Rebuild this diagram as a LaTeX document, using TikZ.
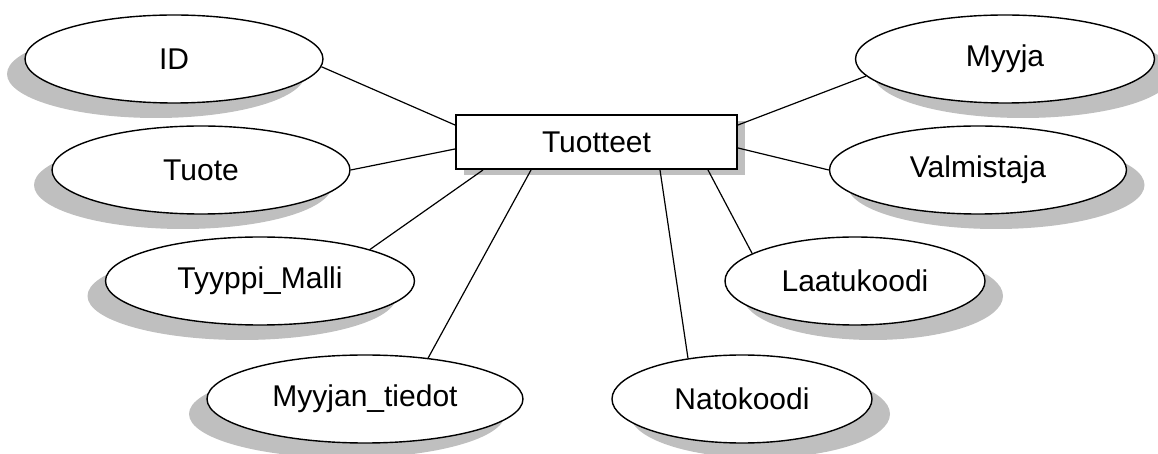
\documentclass[tikz,border=0pt]{standalone}
\usepackage{fontspec}
\setmainfont{Liberation Sans}
\usetikzlibrary{shapes.geometric,shadows}

\begin{document}
\begin{tikzpicture}[x=0.5pt,y=-0.5pt,
   attr/.style={ellipse, draw=black, line width=0.7pt, fill=white, inner sep=0pt,
                minimum height=44pt, font=\fontsize{15pt}{18pt}\selectfont},
   lshadow/.style={drop shadow={shadow xshift=-9pt, shadow yshift=-7.5pt, fill=black!25, opacity=1}},
   rshadow/.style={drop shadow={shadow xshift=9pt, shadow yshift=-7.5pt, fill=black!25, opacity=1}},
   entity/.style={rectangle, draw=black, line width=1pt, fill=white, minimum width=140.5pt,
                minimum height=27pt, font=\fontsize{15pt}{18pt}\selectfont,
                drop shadow={shadow xshift=4pt, shadow yshift=-3pt, fill=black!25, opacity=1}},
   link/.style={black, line width=0.6pt}]
  \useasboundingbox (0,0) rectangle (1158,454);
  % left side
   \node[attr, lshadow, minimum width=149pt] (id) at (174,59) {ID};
   \node[attr, lshadow, minimum width=149pt] (tuote) at (201,170) {Tuote};
   \node[attr, lshadow, minimum width=154.5pt] (tyyppi) at (260,281) {Tyyppi\_Malli};
   \node[attr, lshadow, minimum width=158pt] (myyjantiedot) at (365,399) {Myyjan\_tiedot};
  % right side
   \node[attr, rshadow, minimum width=149.5pt] (myyja) at (1005,59) {Myyja};
   \node[attr, rshadow, minimum width=148.5pt] (valmistaja) at (978,170) {Valmistaja};
   \node[attr, rshadow, minimum width=130pt] (laatu) at (855,281) {Laatukoodi};
   \node[attr, rshadow, minimum width=130pt] (nato) at (742,399) {Natokoodi};
  % entity
   \node[entity] (tuotteet) at (596.5,142) {Tuotteet};
   \draw[link] (id.-3) -- ([yshift=8.5pt]tuotteet.west);
   \draw[link] (tuote.east) -- ([yshift=-3.5pt]tuotteet.west);
   \draw[link] (tyyppi.16) -- ([xshift=-56.75pt]tuotteet.south);
   \draw[link] (myyjantiedot.33) -- ([xshift=-32.75pt]tuotteet.south);
   \draw[link] (nato.143) -- ([xshift=31.75pt]tuotteet.south);
   \draw[link] (laatu.165) -- ([xshift=55.75pt]tuotteet.south);
   \draw[link] (valmistaja.west) -- ([yshift=-3pt]tuotteet.east);
   \draw[link] (myyja.187) -- ([yshift=8.5pt]tuotteet.east);
   \end{tikzpicture}
\end{document}
